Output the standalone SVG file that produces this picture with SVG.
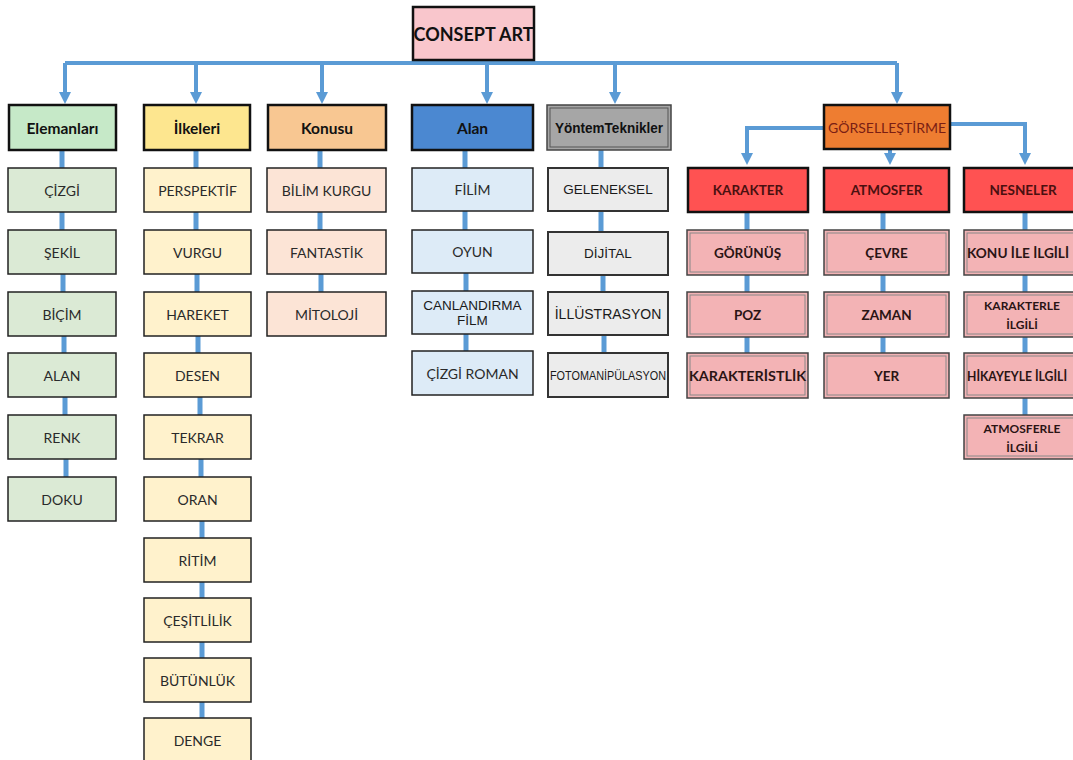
<svg xmlns="http://www.w3.org/2000/svg" width="1073" height="760" viewBox="0 0 1073 760">
<style>
.t{font-family:Lato,"Open Sans",sans-serif;font-size:14px;fill:#2a2a2a;text-anchor:middle;dominant-baseline:central}
.a{font-family:"Liberation Sans",Arial,sans-serif;font-size:13.5px;fill:#1a1a1a;text-anchor:middle;dominant-baseline:central}
.b{font-weight:bold;fill:#111}
.h{stroke:#111;stroke-width:2.5}
.s{stroke:#222;stroke-width:1.5}
.dbl{stroke:#444;stroke-width:1.5}
.inner{fill:none;stroke:#888;stroke-width:1}
.rt{font-family:Lato,"Open Sans",sans-serif;font-weight:bold;font-size:13.5px;fill:#4a1010;text-anchor:middle;dominant-baseline:central}
.pt{font-family:Lato,"Open Sans",sans-serif;font-weight:bold;font-size:13.5px;fill:#2a1414;text-anchor:middle;dominant-baseline:central}
.link{stroke:#5b9bd5;stroke-width:5;fill:none}
.bus{stroke:#5b9bd5;stroke-width:4;fill:none}
.arr{stroke:#5b9bd5;stroke-width:4;fill:none;marker-end:url(#ah)}
.g1{fill:#dbead5}.y1{fill:#fff2cc}.o1{fill:#fce4d6}.bl1{fill:#ddebf7}.gr1{fill:#ececec}.pk{fill:#f3b3b5}.rd{fill:#ff5252}
</style>
<defs>
<marker id="ah" viewBox="0 0 12 12" refX="0" refY="6" markerWidth="12" markerHeight="12" markerUnits="userSpaceOnUse" orient="auto">
<path d="M0,0 L12,6 L0,12 z" fill="#5b9bd5"/>
</marker>
</defs>
<rect width="1073" height="760" fill="#fff"/>

<g id="connectors">
<path class="bus" d="M65,63 H897"/>
<path class="arr" d="M65,63 V92"/>
<path class="arr" d="M196,63 V92"/>
<path class="arr" d="M322,63 V92"/>
<path class="arr" d="M487,63 V92"/>
<path class="arr" d="M615,63 V92"/>
<path class="arr" d="M897,63 V92"/>
<path class="arr" d="M824,128 H747 V153"/>
<path class="arr" d="M890,149 V153"/>
<path class="arr" d="M950,124 H1025 V153"/>
<path class="link" d="M62,150 V168 M62,212 V230 M63,274 V292 M64,336 V353 M65,397 V415 M66,459 V477"/>
<path class="link" d="M196,150 V168 M196,212 V230 M197,274 V292 M198,336 V353 M200,397 V415 M201,459 V477 M202,521 V538 M202,582 V598 M202,642 V658 M202,702 V718"/>
<path class="link" d="M320,150 V168 M320,212 V230 M321,274 V292"/>
<path class="link" d="M465,150 V168 M465,211 V230 M466,273 V291 M466,334 V351"/>
<path class="link" d="M601,150 V168 M601,211 V232 M603,275 V292 M604,335 V353"/>
<path class="link" d="M747,212 V230 M747,275 V292 M747,337 V353"/>
<path class="link" d="M883,212 V230 M883,275 V292 M883,337 V353"/>
<path class="link" d="M1025,212 V230 M1025,275 V292 M1025,337 V353 M1025,398 V415"/>
</g>

<g id="root">
<rect x="413" y="7" width="121" height="53" fill="#f9c6cc" stroke="#111" stroke-width="2.5"/>
<text class="t b" x="473.5" y="34" style="font-size:18px">CONSEPT ART</text>
</g>

<g id="elemanlari">
<rect class="h" x="9" y="105" width="107" height="45" fill="#c6e9c8"/>
<text class="t b" x="62.5" y="128" style="font-size:15.5px">Elemanları</text>
</g>
<g id="ilkeleri">
<rect class="h" x="144" y="105" width="106" height="45" fill="#fde68f"/>
<text class="t b" x="197" y="128" style="font-size:15.5px">İlkeleri</text>
</g>
<g id="konusu">
<rect class="h" x="268" y="105" width="118" height="45" fill="#f8c792"/>
<text class="t b" x="327" y="128" style="font-size:15.5px">Konusu</text>
</g>
<g id="alan">
<rect class="h" x="412" y="105" width="121" height="45" fill="#4b88d1"/>
<text class="t b" x="472.5" y="128" style="font-size:15.5px">Alan</text>
</g>
<g id="yontem">
<rect x="547" y="105" width="124" height="45" fill="#a6a6a6" stroke="#444" stroke-width="1.5"/>
<rect class="inner" x="550" y="108" width="118" height="39" style="stroke:#555"/>
<text class="a" x="609" y="128" style="font-size:14px;fill:#111;font-weight:bold" textLength="108" lengthAdjust="spacingAndGlyphs">YöntemTeknikler</text>
</g>
<g id="gorsellestirme">
<rect class="h" x="824" y="105" width="126" height="44" fill="#ee7d31"/>
<text class="t" x="887" y="127" style="fill:#7a1e14">GÖRSELLEŞTİRME</text>
</g>

<g id="cizgi"><rect class="s g1" x="8" y="168" width="108" height="44"/><text class="t" x="62" y="190">ÇİZGİ</text></g>
<g id="sekil"><rect class="s g1" x="8" y="230" width="108" height="44"/><text class="t" x="62" y="252">ŞEKİL</text></g>
<g id="bicim"><rect class="s g1" x="8" y="292" width="108" height="44"/><text class="t" x="62" y="314">BİÇİM</text></g>
<g id="alan2"><rect class="s g1" x="8" y="353" width="108" height="44"/><text class="t" x="62" y="375">ALAN</text></g>
<g id="renk"><rect class="s g1" x="8" y="415" width="108" height="44"/><text class="t" x="62" y="437">RENK</text></g>
<g id="doku"><rect class="s g1" x="8" y="477" width="108" height="44"/><text class="t" x="62" y="499">DOKU</text></g>

<g id="perspektif"><rect class="s y1" x="144" y="168" width="107" height="44"/><text class="t" x="197.5" y="190">PERSPEKTİF</text></g>
<g id="vurgu"><rect class="s y1" x="144" y="230" width="107" height="44"/><text class="t" x="197.5" y="252">VURGU</text></g>
<g id="hareket"><rect class="s y1" x="144" y="292" width="107" height="44"/><text class="t" x="197.5" y="314">HAREKET</text></g>
<g id="desen"><rect class="s y1" x="144" y="353" width="107" height="44"/><text class="t" x="197.5" y="375">DESEN</text></g>
<g id="tekrar"><rect class="s y1" x="144" y="415" width="107" height="44"/><text class="t" x="197.5" y="437">TEKRAR</text></g>
<g id="oran"><rect class="s y1" x="144" y="477" width="107" height="44"/><text class="t" x="197.5" y="499">ORAN</text></g>
<g id="ritim"><rect class="s y1" x="144" y="538" width="107" height="44"/><text class="t" x="197.5" y="560">RİTİM</text></g>
<g id="cesitlilik"><rect class="s y1" x="144" y="598" width="107" height="44"/><text class="t" x="197.5" y="620">ÇEŞİTLİLİK</text></g>
<g id="butunluk"><rect class="s y1" x="144" y="658" width="107" height="44"/><text class="t" x="197.5" y="680">BÜTÜNLÜK</text></g>
<g id="denge"><rect class="s y1" x="144" y="718" width="107" height="44"/><text class="t" x="197.5" y="740">DENGE</text></g>

<g id="bilimkurgu"><rect class="s o1" x="267" y="168" width="119" height="44"/><text class="t" x="326.5" y="190">BİLİM KURGU</text></g>
<g id="fantastik"><rect class="s o1" x="267" y="230" width="119" height="44"/><text class="t" x="326.5" y="252">FANTASTİK</text></g>
<g id="mitoloji"><rect class="s o1" x="267" y="292" width="119" height="44"/><text class="t" x="326.5" y="314">MİTOLOJİ</text></g>

<g id="filim"><rect class="s bl1" x="412" y="168" width="121" height="43"/><text class="t" x="472.5" y="189.5">FİLİM</text></g>
<g id="oyun"><rect class="s bl1" x="412" y="230" width="121" height="43"/><text class="t" x="472.5" y="251.5">OYUN</text></g>
<g id="canlandirma"><rect class="s bl1" x="412" y="291" width="121" height="43"/><text class="a" x="472.5" y="305">CANLANDIRMA</text><text class="a" x="472.5" y="320">FİLM</text></g>
<g id="cizgiroman"><rect class="s bl1" x="412" y="351" width="121" height="44"/><text class="t" x="472.5" y="373">ÇİZGİ ROMAN</text></g>

<g id="geleneksel"><rect class="gr1" x="548" y="168" width="120" height="43" stroke="#333" stroke-width="2"/><text class="a" x="608" y="189.5">GELENEKSEL</text></g>
<g id="dijital"><rect class="gr1" x="548" y="232" width="120" height="43" stroke="#333" stroke-width="2"/><text class="a" x="608" y="253.5">DİJİTAL</text></g>
<g id="illustrasyon"><rect class="gr1" x="548" y="292" width="120" height="43" stroke="#333" stroke-width="2"/><text class="a" x="608" y="313.5" style="font-size:14px">İLLÜSTRASYON</text></g>
<g id="fotomanipulasyon"><rect class="gr1" x="548" y="353" width="120" height="44" stroke="#333" stroke-width="2"/><text class="a" x="608" y="375" textLength="116" lengthAdjust="spacingAndGlyphs">FOTOMANİPÜLASYON</text></g>

<g id="karakter"><rect class="h rd" x="688" y="168" width="120" height="44"/><text class="rt" x="748" y="190">KARAKTER</text></g>
<g id="gorunus"><rect class="dbl pk" x="687" y="230" width="121" height="45"/><rect class="inner" x="690" y="233" width="115" height="39"/><text class="pt" x="747.5" y="252.5">GÖRÜNÜŞ</text></g>
<g id="poz"><rect class="dbl pk" x="687" y="292" width="121" height="45"/><rect class="inner" x="690" y="295" width="115" height="39"/><text class="pt" x="747.5" y="314.5">POZ</text></g>
<g id="karakteristlik"><rect class="dbl pk" x="687" y="353" width="121" height="45"/><rect class="inner" x="690" y="356" width="115" height="39"/><text class="pt" x="747.5" y="375.5" textLength="117" lengthAdjust="spacingAndGlyphs">KARAKTERİSTLİK</text></g>

<g id="atmosfer"><rect class="h rd" x="824" y="168" width="125" height="44"/><text class="rt" x="886.5" y="190">ATMOSFER</text></g>
<g id="cevre"><rect class="dbl pk" x="824" y="230" width="125" height="45"/><rect class="inner" x="827" y="233" width="119" height="39"/><text class="pt" x="886.5" y="252.5">ÇEVRE</text></g>
<g id="zaman"><rect class="dbl pk" x="824" y="292" width="125" height="45"/><rect class="inner" x="827" y="295" width="119" height="39"/><text class="pt" x="886.5" y="314.5">ZAMAN</text></g>
<g id="yer"><rect class="dbl pk" x="824" y="353" width="125" height="45"/><rect class="inner" x="827" y="356" width="119" height="39"/><text class="pt" x="886.5" y="375.5">YER</text></g>

<g id="nesneler"><rect class="h rd" x="964" y="168" width="120" height="44"/><text class="rt" x="1023" y="190">NESNELER</text></g>
<g id="konuile"><rect class="dbl pk" x="964" y="230" width="120" height="45"/><rect class="inner" x="967" y="233" width="114" height="39"/><text class="pt" x="967" y="252.5" style="text-anchor:start" textLength="102" lengthAdjust="spacingAndGlyphs">KONU İLE İLGİLİ</text></g>
<g id="karakterle"><rect class="dbl pk" x="964" y="292" width="120" height="45"/><rect class="inner" x="967" y="295" width="114" height="39"/><text class="pt" x="1022" y="305" style="font-size:12px">KARAKTERLE</text><text class="pt" x="1022" y="324" style="font-size:12px">İLGİLİ</text></g>
<g id="hikayeyle"><rect class="dbl pk" x="964" y="353" width="120" height="45"/><rect class="inner" x="967" y="356" width="114" height="39"/><text class="pt" x="967" y="375.5" style="text-anchor:start;font-size:13px" textLength="100" lengthAdjust="spacingAndGlyphs">HİKAYEYLE İLGİLİ</text></g>
<g id="atmosferle"><rect class="dbl pk" x="964" y="415" width="120" height="44"/><rect class="inner" x="967" y="418" width="114" height="38"/><text class="pt" x="1022" y="428" style="font-size:12px">ATMOSFERLE</text><text class="pt" x="1022" y="447" style="font-size:12px">İLGİLİ</text></g>
</svg>
